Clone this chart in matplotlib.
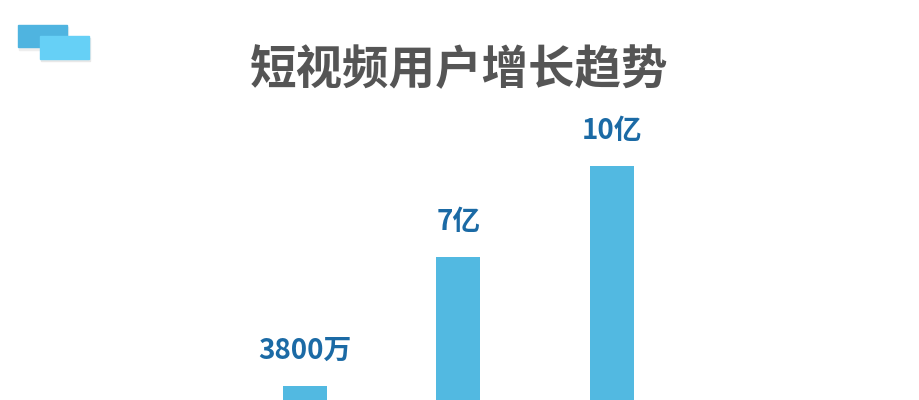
import matplotlib.pyplot as plt
from matplotlib.patches import Rectangle

plt.rcParams['font.family'] = ['Noto Sans CJK SC', 'DejaVu Sans']

# visible bar heights (bars run off the bottom of the picture)
bar_heights = [0.35, 3.58, 5.85]
labels = ["3800万", "7亿", "10亿"]
title = "短视频用户增长趋势"

BAR_COLOR = "#52b9e1"
LABEL_COLOR = "#1b6aa5"

fig = plt.figure(figsize=(9.2, 4), dpi=100)
fig.patch.set_facecolor("white")

ax = fig.add_axes([0, 0, 1, 1])
x = [305, 458.5, 612.5]
ax.bar(x, bar_heights, width=44, color=BAR_COLOR)
ax.set_xlim(0, 920)
ax.set_ylim(0, 10)
ax.axis("off")

for xi, h, lab in zip(x, bar_heights, labels):
    ax.annotate(lab, (xi, h), xytext=(0, 21), textcoords="offset pixels",
                ha="center", va="bottom", fontsize=20, fontweight="bold",
                color=LABEL_COLOR)

fig.text(459 / 920, 1 - 70 / 400, title, ha="center", va="center",
         fontsize=33.5, fontweight="heavy", color="#555555")

# decorative blocks top-left
deco = fig.add_axes([0, 0, 1, 1], zorder=-1)
deco.set_xlim(0, 920)
deco.set_ylim(400, 0)
deco.axis("off")
deco.add_patch(Rectangle((19, 27), 49, 23, color="#eeeeee"))
deco.add_patch(Rectangle((18, 25), 49, 22, color="#4fb4e0"))
deco.add_patch(Rectangle((41, 38), 49, 23, color="#e8e8e8"))
deco.add_patch(Rectangle((40, 36), 49, 23, color="#66d0f6"))

fig.savefig("out.png", dpi=100)
